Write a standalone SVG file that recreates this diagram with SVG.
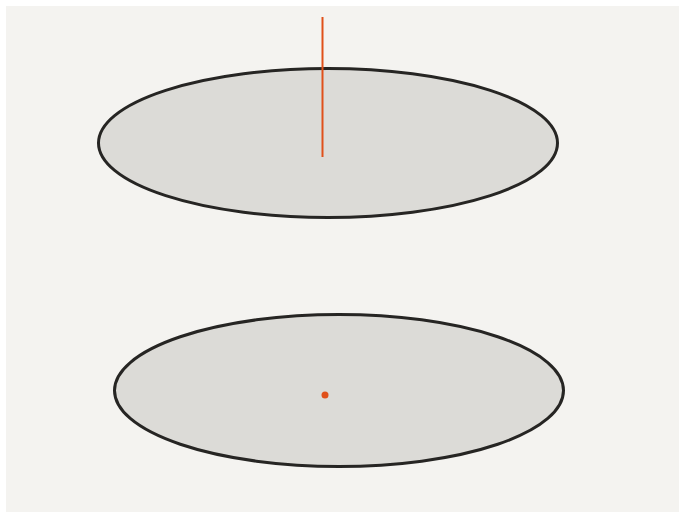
<svg xmlns="http://www.w3.org/2000/svg" width="679" height="512" viewBox="0 0 679 512">
<style>
.disc{fill:#dcdbd7;stroke:#262523;stroke-width:3}
.red{stroke:#e0501a;stroke-width:2;fill:none}
</style>
<rect x="0" y="0" width="679" height="512" fill="#ffffff"/>
<rect x="6" y="6" width="673" height="506" fill="#f4f3f0"/>
<g id="top-disc">
<ellipse class="disc" cx="328" cy="143" rx="229.5" ry="74.5"/>
</g>
<g id="bottom-disc">
<ellipse class="disc" cx="339" cy="390.5" rx="224.5" ry="76"/>
</g>
<g id="connectors">
<line class="red" x1="322.5" y1="17" x2="322.5" y2="157"/>
</g>
<g id="point">
<circle cx="325" cy="395" r="3.5" fill="#e0501a"/>
</g>
</svg>
